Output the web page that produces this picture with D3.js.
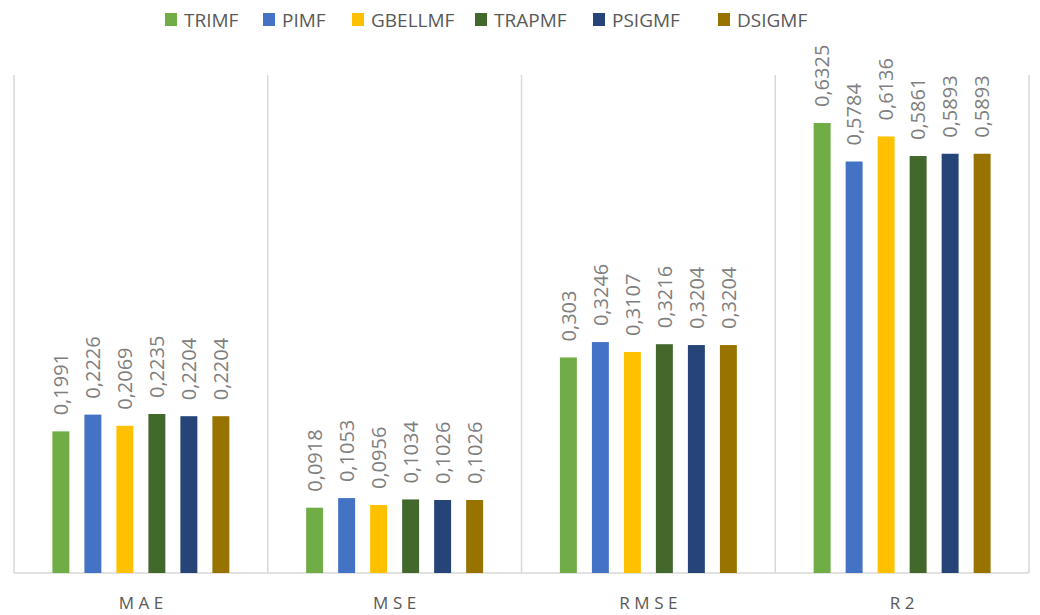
<!DOCTYPE html>
<html>
<head>
<meta charset="utf-8">
<script src="https://cdn.jsdelivr.net/npm/d3@7"></script>
<style>
  body { margin: 0; background: #fff; }
  svg { display: block; }
</style>
</head>
<body>
<svg id="chart" width="1040" height="615"></svg>
<script>
// Error metrics for each membership function type
const metrics = ["MAE", "MSE", "RMSE", "R2"];
const series = ["TRIMF", "PIMF", "GBELLMF", "TRAPMF", "PSIGMF", "DSIGMF"];
const colors = ["#70ad47", "#4472c4", "#ffc000", "#43682b", "#264478", "#997300"];

const TRIMF   = [0.1991, 0.0918, 0.303,  0.6325];
const PIMF    = [0.2226, 0.1053, 0.3246, 0.5784];
const GBELLMF = [0.2069, 0.0956, 0.3107, 0.6136];
const TRAPMF  = [0.2235, 0.1034, 0.3216, 0.5861];
const PSIGMF  = [0.2204, 0.1026, 0.3204, 0.5893];
const DSIGMF  = [0.2204, 0.1026, 0.3204, 0.5893];
const values = [TRIMF, PIMF, GBELLMF, TRAPMF, PSIGMF, DSIGMF];

const svg = d3.select("#chart");
const plotLeft = 14, plotRight = 1029, plotTop = 75, plotBottom = 573;
const font = "'Open Sans', 'Liberation Sans', Arial, sans-serif";

const x0 = d3.scaleBand().domain(metrics).range([plotLeft, plotRight]).paddingInner(0).paddingOuter(0);
const x1 = d3.scaleBand().domain(series).range([0, x0.bandwidth()]).paddingInner(0.47).paddingOuter(1.2);
const y = d3.scaleLinear().domain([0, 0.7]).range([plotBottom, plotTop]);

// group separators
svg.append("g").selectAll("line")
  .data(d3.range(metrics.length + 1))
  .join("line")
  .attr("x1", i => plotLeft + i * x0.bandwidth())
  .attr("x2", i => plotLeft + i * x0.bandwidth())
  .attr("y1", plotTop).attr("y2", plotBottom)
  .attr("stroke", "#d9d9d9").attr("stroke-width", 1.5);

// baseline
svg.append("line")
  .attr("x1", plotLeft).attr("x2", plotRight)
  .attr("y1", plotBottom).attr("y2", plotBottom)
  .attr("stroke", "#d9d9d9").attr("stroke-width", 1.5);

const rows = [];
metrics.forEach((m, mi) => series.forEach((s, si) => rows.push({ m, s, si, v: values[si][mi] })));

const fmt = v => String(v).replace(".", ",");

svg.append("g").selectAll("rect")
  .data(rows)
  .join("rect")
  .attr("x", d => x0(d.m) + x1(d.s))
  .attr("width", x1.bandwidth())
  .attr("y", d => y(d.v))
  .attr("height", d => y(0) - y(d.v))
  .attr("fill", d => colors[d.si]);

// value labels, rotated above each bar
svg.append("g").selectAll("text")
  .data(rows)
  .join("text")
  .attr("transform", d => `translate(${x0(d.m) + x1(d.s) + x1.bandwidth() / 2},${y(d.v) - 16}) rotate(-90)`)
  .attr("dy", "0.36em")
  .attr("font-family", font)
  .attr("font-size", 20)
  .attr("fill", "#7f7f7f")
  .text(d => fmt(d.v));

// category labels
const spacing = 4.5;
svg.append("g").selectAll("text")
  .data(metrics)
  .join("text")
  .attr("x", d => x0(d) + x0.bandwidth() / 2 + spacing / 2)
  .attr("y", 609)
  .attr("text-anchor", "middle")
  .attr("font-family", font)
  .attr("font-size", 17)
  .attr("letter-spacing", spacing + "px")
  .attr("fill", "#595959")
  .text(d => d);

// legend
const legendX = [165, 263, 352, 475, 593, 718];
const lg = svg.append("g").selectAll("g")
  .data(series)
  .join("g")
  .attr("transform", (d, i) => `translate(${legendX[i]},13)`);
lg.append("rect").attr("width", 12).attr("height", 13).attr("fill", (d, i) => colors[i]);
lg.append("text")
  .attr("x", 19).attr("y", 13.5)
  .attr("font-family", font)
  .attr("font-size", 19)
  .attr("fill", "#595959")
  .text(d => d);
</script>
</body>
</html>
